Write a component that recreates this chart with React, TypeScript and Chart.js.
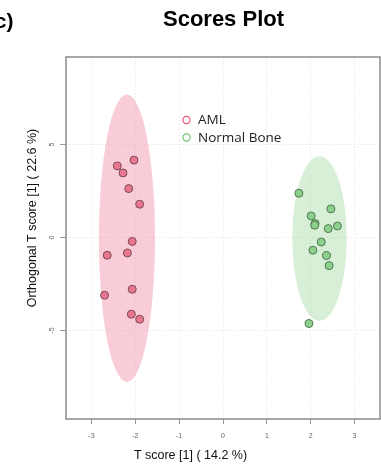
import React, { useEffect, useRef } from "react";
import { Chart, registerables } from "chart.js";

Chart.register(...registerables);

// ---- data ----
const seriesLabels = ["AML", "Normal Bone"];
const amlX = [-2.41, -2.28, -2.03, -2.15, -1.9, -2.07, -2.64, -2.18, -2.07, -2.7, -2.09, -1.9];
const amlY = [3.85, 3.47, 4.16, 2.63, 1.79, -0.21, -0.95, -0.83, -2.78, -3.1, -4.12, -4.39];
const normalX = [1.73, 2.46, 2.01, 2.1, 2.09, 2.61, 2.4, 2.24, 2.05, 2.36, 2.42, 1.96];
const normalY = [2.38, 1.54, 1.16, 0.75, 0.66, 0.62, 0.48, -0.24, -0.68, -0.97, -1.51, -4.62];
// confidence ellipses: [centerX, centerY, radiusX, radiusY]
const amlEllipse = [-2.19, -0.04, 0.64, 7.72];
const normalEllipse = [2.2, -0.05, 0.62, 4.42];
const xRange = [-3.58, 3.58];
const yRange = [-9.75, 9.7];
const titleText = "Scores Plot";
const panelText = "(c)";
const xTitle = "T score [1] ( 14.2 %)";
const yTitle = "Orthogonal T score [1] ( 22.6 %)";

const FONT = "'Liberation Sans', Arial, sans-serif";

const decor = {
  id: "decor",
  beforeDatasetsDraw(chart: any) {
    const { ctx, scales } = chart;
    const xs = scales.x;
    const ys = scales.y;
    const ell = [
      { e: amlEllipse, c: "rgba(242,144,168,0.45)" },
      { e: normalEllipse, c: "rgba(164,219,164,0.45)" },
    ];
    ctx.save();
    ell.forEach(({ e, c }) => {
      const cx = xs.getPixelForValue(e[0]);
      const cy = ys.getPixelForValue(e[1]);
      const rx = Math.abs(xs.getPixelForValue(e[0] + e[2]) - cx);
      const ry = Math.abs(ys.getPixelForValue(e[1] + e[3]) - cy);
      ctx.beginPath();
      ctx.ellipse(cx, cy, rx, ry, 0, 0, Math.PI * 2);
      ctx.fillStyle = c;
      ctx.fill();
    });
    ctx.restore();
  },
  afterDraw(chart: any) {
    const { ctx, chartArea, scales } = chart;
    const ys = scales.y;
    ctx.save();
    // frame
    ctx.strokeStyle = "#8c8c8c";
    ctx.lineWidth = 1.5;
    ctx.strokeRect(chartArea.left, chartArea.top, chartArea.right - chartArea.left, chartArea.bottom - chartArea.top);

    // y tick labels (rotated)
    ctx.fillStyle = "#666";
    ctx.font = `7px ${FONT}`;
    ctx.textAlign = "center";
    ctx.textBaseline = "middle";
    ys.ticks.forEach((t: any) => {
      const py = ys.getPixelForValue(t.value);
      ctx.save();
      ctx.translate(52, py);
      ctx.rotate(-Math.PI / 2);
      ctx.fillText(String(t.value), 0, 0);
      ctx.restore();
    });

    // title & panel label
    ctx.fillStyle = "#000";
    ctx.font = `bold 22px ${FONT}`;
    ctx.textAlign = "center";
    ctx.textBaseline = "alphabetic";
    ctx.fillText(titleText, 223.5, 26);
    ctx.font = `bold 21px ${FONT}`;
    ctx.textAlign = "right";
    ctx.fillText(panelText, 13.5, 28);

    // axis titles
    ctx.font = `12.5px ${FONT}`;
    ctx.textAlign = "center";
    ctx.textBaseline = "middle";
    ctx.fillStyle = "#111";
    ctx.fillText(xTitle, 190.5, 456);
    ctx.save();
    ctx.translate(33, 218);
    ctx.rotate(-Math.PI / 2);
    ctx.fillText(yTitle, 0, 0);
    ctx.restore();

    // legend
    const legendColors = ["#e8587a", "#6cc46c"];
    ctx.font = `13.5px 'Open Sans', ${FONT}`;
    ctx.textAlign = "left";
    ctx.textBaseline = "middle";
    seriesLabels.forEach((lab, i) => {
      const y = 120 + i * 17.5;
      ctx.beginPath();
      ctx.arc(186.5, y, 3.6, 0, Math.PI * 2);
      ctx.strokeStyle = legendColors[i];
      ctx.lineWidth = 1.2;
      ctx.stroke();
      ctx.fillStyle = "#222";
      ctx.fillText(lab, 198, y + 0.5);
    });
    ctx.restore();
  },
};

export default function App() {
  const ref = useRef<HTMLCanvasElement>(null);
  useEffect(() => {
    const canvas = ref.current;
    if (!canvas) return;
    const chart = new Chart(canvas, {
      type: "scatter",
      data: {
        datasets: [
          {
            label: seriesLabels[0],
            data: amlX.map((x, i) => ({ x, y: amlY[i] })),
            backgroundColor: "#e9758f",
            borderColor: "#7a4a55",
            borderWidth: 1,
            pointRadius: 4,
          },
          {
            label: seriesLabels[1],
            data: normalX.map((x, i) => ({ x, y: normalY[i] })),
            backgroundColor: "#8dcf8d",
            borderColor: "#4d7a4d",
            borderWidth: 1,
            pointRadius: 4,
          },
        ],
      },
      options: {
        responsive: false,
        animation: false,
        layout: { autoPadding: false, padding: { top: 57, left: 0, right: 1, bottom: 0 } },
        plugins: {
          legend: { display: false },
          title: { display: false },
          tooltip: { enabled: false },
        },
        scales: {
          x: {
            type: "linear",
            min: xRange[0],
            max: xRange[1],
            afterFit: (s: any) => {
              s.height = 46;
              s.paddingLeft = 0;
              s.paddingRight = 0;
            },
            ticks: {
              stepSize: 1,
              includeBounds: false,
              font: { size: 7, family: FONT },
              color: "#666",
              padding: 8,
            },
            grid: { color: "#e4e4e4", tickColor: "#999", tickLength: 5, tickWidth: 1 },
            border: { display: false, dash: [1, 2] },
          },
          y: {
            type: "linear",
            min: yRange[0],
            max: yRange[1],
            afterFit: (s: any) => {
              s.width = 66;
              s.paddingTop = 0;
              s.paddingBottom = 0;
            },
            ticks: { stepSize: 5, includeBounds: false, display: false },
            grid: { color: "#e4e4e4", tickColor: "#999", tickLength: 6, tickWidth: 1 },
            border: { display: false, dash: [1, 2] },
          },
        },
      },
      plugins: [decor],
    });
    return () => chart.destroy();
  }, []);
  return (
    <div style={{ position: "absolute", left: 0, top: 0, width: 381, height: 465, background: "#fff" }}>
      <canvas ref={ref} width={381} height={465} style={{ display: "block" }} />
    </div>
  );
}
